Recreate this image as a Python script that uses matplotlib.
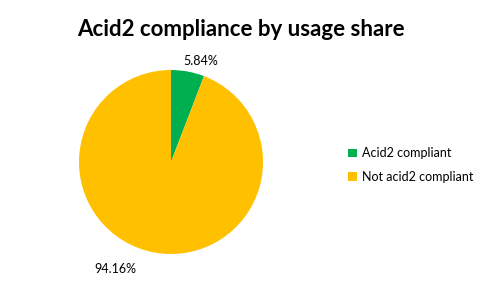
import matplotlib
matplotlib.use("Agg")
import matplotlib.pyplot as plt
import numpy as np

labels = ["Acid2 compliant", "Not acid2 compliant"]
shares = [5.84, 94.16]
colors = ["#00B050", "#FFC000"]
pct_text = ["5.84%", "94.16%"]

plt.rcParams['font.family'] = ['Lato', 'DejaVu Sans']

W, H = 481, 289
fig = plt.figure(figsize=(W / 100, H / 100), dpi=100)
fig.patch.set_facecolor("white")

# pie centre ~ (171,162) px, radius ~92 px
cx, cy, r = 171, 162, 92
ax = fig.add_axes([(cx - r) / W, (H - cy - r) / H, 2 * r / W, 2 * r / H])
wedges, _ = ax.pie(shares, colors=colors, startangle=90, counterclock=False,
                   radius=1.0, wedgeprops=dict(linewidth=0))
ax.set_xlim(-1, 1)
ax.set_ylim(-1, 1)
ax.set_aspect("equal")
ax.axis("off")

# data labels, placed outside the slices like Excel does
label_pos = [(0.32, 1.10), (-0.61, -1.16)]
for txt, (x, y) in zip(pct_text, label_pos):
    ax.text(x, y, txt, ha="center", va="center", fontsize=9, color="#000000",
            clip_on=False)

fig.text(241 / W, 1 - 29 / H, "Acid2 compliance by usage share",
         ha="center", va="center", fontsize=16, fontweight="bold")

leg = fig.legend(wedges, labels, loc="center left",
                 bbox_to_anchor=(337 / W, 1 - 165 / H), frameon=False,
                 fontsize=9, handlelength=0.7, handleheight=0.7,
                 handletextpad=0.4, labelspacing=0.9)

fig.savefig("out.png", dpi=100, facecolor="white")
